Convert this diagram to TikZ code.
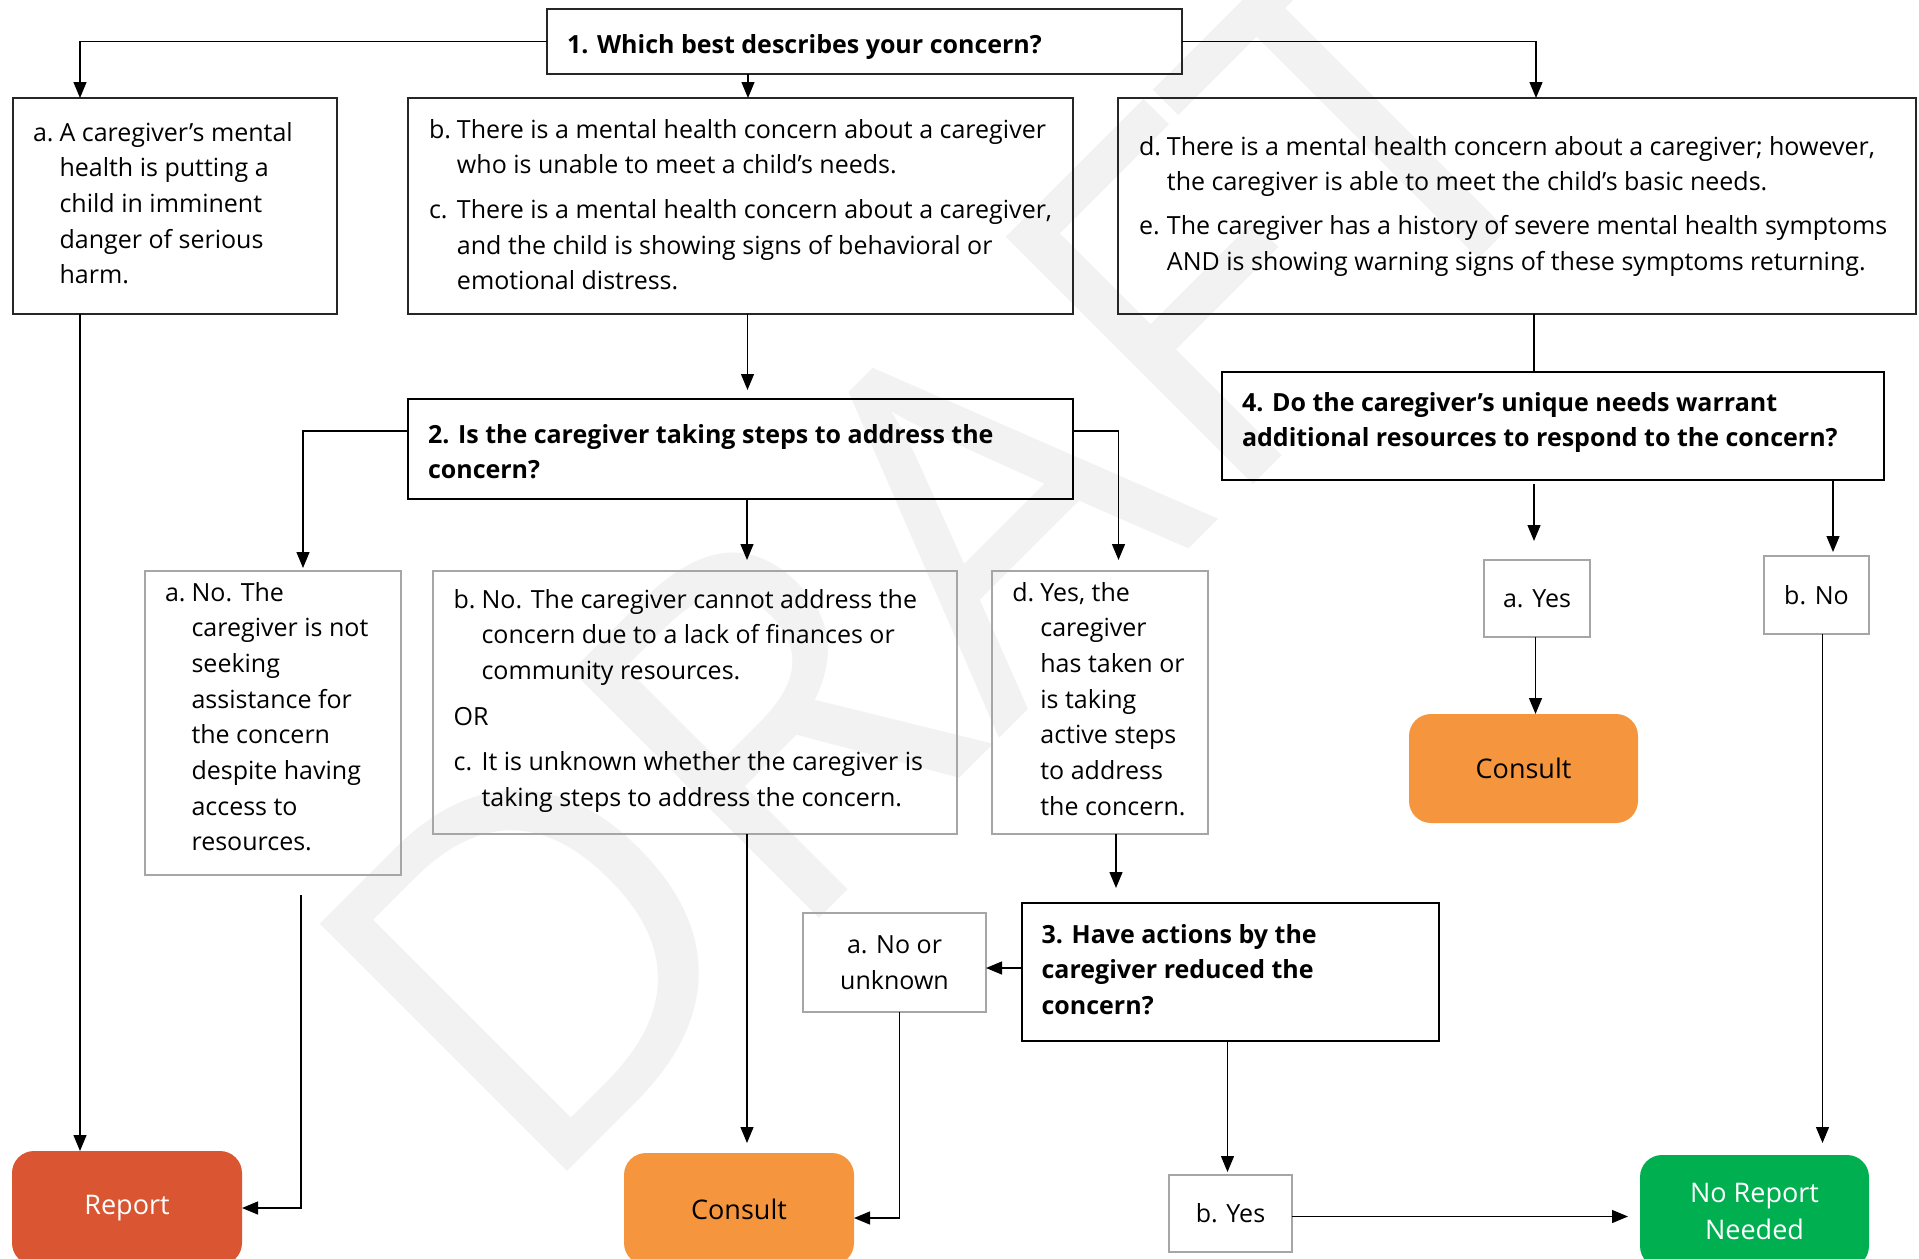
\documentclass[tikz,border=0pt]{standalone}
\usepackage{fontspec}
\setmainfont{Open Sans}
\usetikzlibrary{arrows.meta}
\definecolor{reportred}{HTML}{DA5632}
\definecolor{consultorange}{HTML}{F5963F}
\definecolor{noreportgreen}{HTML}{00B050}
\definecolor{optgray}{HTML}{A6A6A6}
\definecolor{markgray}{HTML}{F2F2F2}
\definecolor{edgedark}{HTML}{262626}

% list text: label column + text column, one row per printed line
\newenvironment{listtext}{\begin{tabular}[t]{@{}l@{\hspace{6pt}}l@{}}}{\end{tabular}}
\newenvironment{plaintext}{\begin{tabular}[t]{@{}l@{}}}{\end{tabular}}

\begin{document}
\begin{tikzpicture}[x=1pt,y=-1pt,
  every node/.style={inner sep=0pt, outer sep=0pt},
  body/.style={font=\fontsize{25}{35.7}\selectfont},
  qtext/.style={font=\fontsize{25}{35.7}\selectfont\bfseries},
  question/.style={draw=black, line width=2.2pt},
  topbox/.style={draw=edgedark, line width=1.5pt},
  optbox/.style={draw=optgray, line width=2.2pt, align=center,
    font=\fontsize{25}{36.5}\selectfont},
  outcome/.style={rounded corners=22pt, align=center,
    font=\fontsize{27}{37}\selectfont},
  conn/.style={line width=1.3pt, draw=black},
  arr/.style={conn, -{Triangle[width=13pt,length=16pt]}},
]
\useasboundingbox (0,0) rectangle (1919,1258);
\clip (0,0) rectangle (1919,1258);

% watermark
\node[anchor=base west, rotate=45, text=markgray,
  font=\fontsize{490}{490}\selectfont] (mark) at (533,1205) {DRAFT};

% question boxes
\node[question, draw=edgedark, line width=1.6pt, minimum width=635, minimum height=65] (q1) at (864.5,41.5) {};
\node[question, minimum width=665, minimum height=100] (q2) at (740.5,449) {};
\node[question, minimum width=417, minimum height=138] (q3) at (1230.5,972) {};
\node[question, minimum width=662, minimum height=108] (q4) at (1553,426) {};

% first-level answers
\node[topbox, minimum width=324, minimum height=216] (a) at (175,206) {};
\node[topbox, minimum width=665, minimum height=216] (bc) at (740.5,206) {};
\node[topbox, minimum width=798, minimum height=216] (de) at (1517,206) {};

% second-level answers
\node[optbox, minimum width=256, minimum height=304] (o2a) at (273,723) {};
\node[optbox, minimum width=524, minimum height=263] (o2bc) at (695,702.5) {};
\node[optbox, minimum width=216, minimum height=263] (o2d) at (1100,702.5) {};

% short answers
\node[optbox, minimum width=183, minimum height=99] (nou) at (894.5,962.5) {a. No or\\unknown};
\node[optbox, minimum width=123, minimum height=77] (yes3) at (1230.5,1213.5) {b. Yes};
\node[optbox, minimum width=106, minimum height=77] (yes4) at (1537,598.5) {a. Yes};
\node[optbox, minimum width=105, minimum height=78] (no4) at (1816.5,595) {b. No};

% outcomes
\node[outcome, fill=reportred, text=white, minimum width=230, minimum height=114] (report) at (127,1208) {Report};
\node[outcome, fill=consultorange, text=black, minimum width=230, minimum height=112] (consult2) at (739,1209) {Consult};
\node[outcome, fill=consultorange, text=black, minimum width=229, minimum height=109] (consult4) at (1523.5,768.5) {Consult};
\node[outcome, fill=noreportgreen, text=white, minimum width=229, minimum height=113] (noreport) at (1754.5,1211.5) {No Report\\Needed};

% texts
\node[qtext, anchor=base west] (q1T) at (567,53) {1. Which best describes your concern?};
\node[qtext, anchor=base west] (q2T) at (428,443) {\begin{plaintext}
2. Is the caregiver taking steps to address the\\
concern?\end{plaintext}};
\node[qtext, anchor=base west] (q3T) at (1041.6,943) {\begin{plaintext}
3. Have actions by the\\
caregiver reduced the\\
concern?\end{plaintext}};
\node[qtext, anchor=base west] (q4T) at (1242,411) {\begin{plaintext}
4. Do the caregiver’s unique needs warrant\\
additional resources to respond to the concern?\end{plaintext}};

\node[body, anchor=base west] (aT) at (33,141) {\begin{listtext}
a. & A caregiver’s mental\\
 & health is putting a\\
 & child in imminent\\
 & danger of serious\\
 & harm.\end{listtext}};
\node[body, anchor=base west] (bcT) at (429,138) {\begin{listtext}
b. & There is a mental health concern about a caregiver\\
 & who is unable to meet a child’s needs.\\[9pt]
c. & There is a mental health concern about a caregiver,\\
 & and the child is showing signs of behavioral or\\
 & emotional distress.\end{listtext}};
\node[body, anchor=base west] (deT) at (1139,155) {\begin{listtext}
d. & There is a mental health concern about a caregiver; however,\\
 & the caregiver is able to meet the child’s basic needs.\\[8pt]
e. & The caregiver has a history of severe mental health symptoms\\
 & AND is showing warning signs of these symptoms returning.\end{listtext}};

\node[body, anchor=base west] (o2aT) at (165,601) {\begin{listtext}
a. & No. The\\
 & caregiver is not\\
 & seeking\\
 & assistance for\\
 & the concern\\
 & despite having\\
 & access to\\
 & resources.\end{listtext}};
\node[body, anchor=base west] (o2bcT) at (453.6,608) {\begin{listtext}
b. & No. The caregiver cannot address the\\
 & concern due to a lack of finances or\\
 & community resources.\\[10pt]
\multicolumn{2}{@{}l@{}}{OR}\\[10pt]
c. & It is unknown whether the caregiver is\\
 & taking steps to address the concern.\end{listtext}};
\node[body, anchor=base west] (o2dT) at (1012.4,601) {\begin{listtext}
d. & Yes, the\\
 & caregiver\\
 & has taken or\\
 & is taking\\
 & active steps\\
 & to address\\
 & the concern.\end{listtext}};

% connectors from question 1
\draw[arr] (q1.west) -| ([xshift=-95pt]a.north);
\draw[arr] ([xshift=7.5pt]bc.north |- q1.south) -- ([xshift=7.5pt]bc.north);
\draw[arr] (q1.east) -| ([xshift=19pt]de.north);

% first-level answers onward
\draw[arr] ([xshift=-95pt]a.south) -- ([xshift=-95pt]a.south |- report.north);
\draw[arr, shorten >=9pt] ([xshift=7pt]bc.south) -- ([xshift=7pt]bc.south |- q2.north);
\draw[conn] ([xshift=17pt]de.south) -- ([xshift=17pt]de.south |- q4.north);

% connectors from question 2
\draw[arr, shorten >=3pt] ([yshift=18pt]q2.west) -| ([xshift=30pt]o2a.north);
\draw[arr, shorten >=11pt] ([xshift=6.5pt]q2.south) -- ([xshift=6.5pt]q2.south |- o2bc.north);
\draw[arr, shorten >=11pt] ([yshift=18pt]q2.east) -| ([xshift=18.5pt]o2d.north);

% second-level answers onward
\draw[arr] ([xshift=28pt,yshift=-20pt]o2a.south) |- (report.east);
\draw[arr, shorten >=10pt] ([xshift=52pt]o2bc.south) -- ([xshift=52pt]o2bc.south |- consult2.north);
\draw[arr, shorten >=15pt] ([xshift=16pt]o2d.south) -- ([xshift=16pt]o2d.south |- q3.north);

% connectors from question 3
\draw[arr] ([yshift=4pt]q3.west) -- ([yshift=4pt]q3.west -| nou.east);
\draw[arr] ([xshift=5pt]nou.south) |- ([yshift=-9pt]consult2.east);
\draw[arr, shorten >=3pt] ([xshift=-3pt]q3.south) -- ([xshift=-3pt]q3.south |- yes3.north);
\draw[arr, shorten >=12pt] ([yshift=-3pt]yes3.east) -- ([yshift=-3pt]yes3.east -| noreport.west);

% connectors from question 4
\draw[arr, shorten <=4pt, shorten >=19pt] ([xshift=-19pt]q4.south) -- ([xshift=-19pt]q4.south |- yes4.north);
\draw[arr] ([xshift=-1.5pt]yes4.south) -- ([xshift=-1.5pt]yes4.south |- consult4.north);
\draw[arr, shorten >=4pt] ([xshift=280pt]q4.south) -- ([xshift=280pt]q4.south |- no4.north);
\draw[arr, shorten >=12pt] ([xshift=6pt]no4.south) -- ([xshift=6pt]no4.south |- noreport.north);
\end{tikzpicture}
\end{document}
